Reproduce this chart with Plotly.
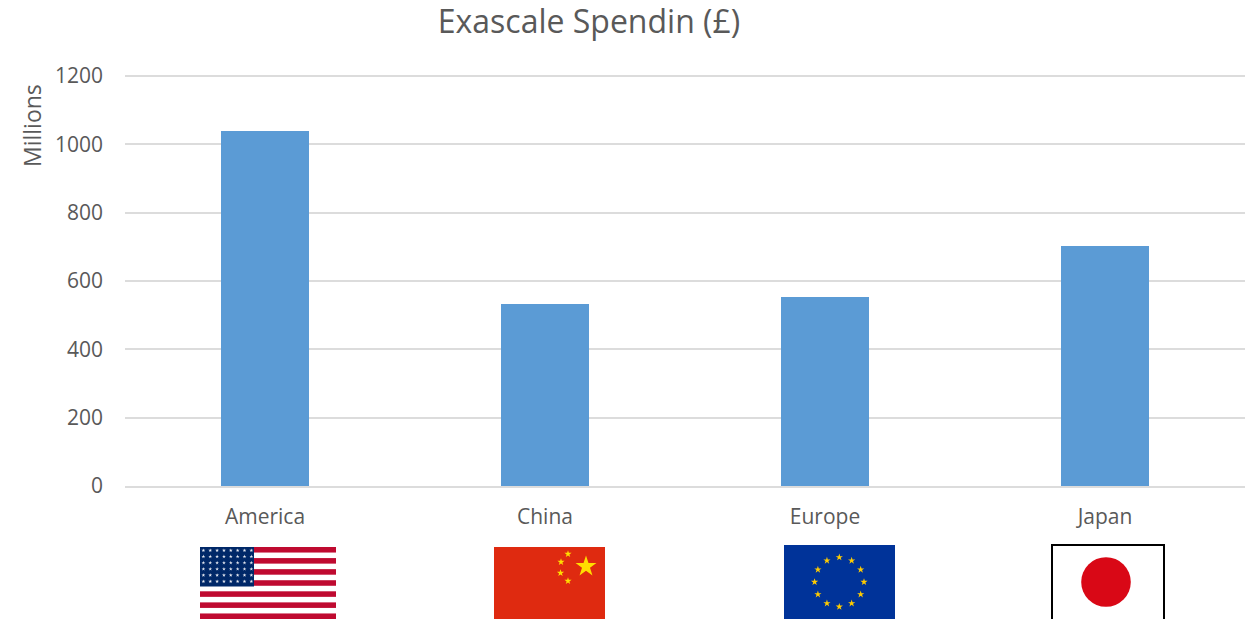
import base64
import math

import plotly.graph_objects as go

# Chart data
regions = ["America", "China", "Europe", "Japan"]
spending_millions = [1040, 533, 553, 702]
y_ticks = [0, 200, 400, 600, 800, 1000, 1200]

WIDTH, HEIGHT = 1253, 619
PLOT_LEFT, PLOT_RIGHT, PLOT_TOP, PLOT_BOTTOM = 125, 1245, 75, 486
TEXT = "#595959"
GRID = "#DCDCDC"
FONT = "Open Sans"


def star(cx, cy, r, fill):
    """Five-pointed star as an SVG polygon."""
    pts = []
    for i in range(10):
        rad = r if i % 2 == 0 else r * 0.382
        a = -math.pi / 2 + i * math.pi / 5
        pts.append(f"{cx + rad * math.cos(a):.2f},{cy + rad * math.sin(a):.2f}")
    return f'<polygon points="{" ".join(pts)}" fill="{fill}"/>'


def usa_flag():
    w, h = 136, 72
    stripe = h / 13
    body = f'<rect width="{w}" height="{h}" fill="#fff"/>'
    for i in range(0, 13, 2):
        body += f'<rect y="{i * stripe:.2f}" width="{w}" height="{stripe:.2f}" fill="#BF0A30"/>'
    body += '<rect width="54" height="39.5" fill="#002868"/>'
    for row in range(6):
        for col in range(8):
            body += star(3.4 + col * 6.85, 3.4 + row * 6.2, 2.0, "#E4E8F0")
    return w, h, body


def china_flag():
    w, h = 111, 72
    body = f'<rect width="{w}" height="{h}" fill="#DF2A10"/>'
    body += star(92, 19.5, 11, "#FFDE00")
    for cx, cy in [(74, 7), (67, 15), (66.5, 26), (74, 34)]:
        body += star(cx, cy, 3.8, "#FFDE00")
    return w, h, body


def europe_flag():
    w, h = 111, 74
    body = f'<rect width="{w}" height="{h}" fill="#003399"/>'
    for i in range(12):
        a = math.radians(i * 30)
        body += star(55.3 + 24.7 * math.sin(a), 37 - 24.7 * math.cos(a), 3.8, "#FFCC00")
    return w, h, body


def japan_flag():
    w, h = 114, 75
    body = (
        f'<rect x="1" y="1" width="{w - 2}" height="{h + 2}" fill="#fff" stroke="#000" stroke-width="2"/>'
        '<circle cx="55" cy="38" r="24.8" fill="#D90816"/>'
    )
    return w, h, body


def flag_image(flag, left, top):
    """Place an inline SVG flag below the axis, positioned in page pixels."""
    w, h, body = flag
    svg = f'<svg xmlns="http://www.w3.org/2000/svg" width="{w}" height="{h}" viewBox="0 0 {w} {h}">{body}</svg>'
    span_x = PLOT_RIGHT - PLOT_LEFT
    span_y = PLOT_BOTTOM - PLOT_TOP
    return dict(
        source="data:image/svg+xml;base64," + base64.b64encode(svg.encode()).decode(),
        xref="paper", yref="paper",
        x=(left - PLOT_LEFT) / span_x,
        y=(PLOT_BOTTOM - top) / span_y,
        sizex=w / span_x, sizey=h / span_y,
        xanchor="left", yanchor="top",
        sizing="stretch", layer="above",
    )


fig = go.Figure(
    go.Bar(
        x=regions,
        y=spending_millions,
        width=0.314,
        marker=dict(color="#5B9BD5", line=dict(width=0)),
    )
)

fig.update_layout(
    width=WIDTH,
    height=HEIGHT,
    autosize=False,
    plot_bgcolor="#fff",
    paper_bgcolor="#fff",
    showlegend=False,
    bargap=0,
    font=dict(family=FONT, color=TEXT),
    margin=dict(l=PLOT_LEFT, r=WIDTH - PLOT_RIGHT, t=PLOT_TOP, b=HEIGHT - PLOT_BOTTOM, pad=0),
    title=dict(
        text="Exascale Spendin (£)",
        font=dict(family=FONT, size=32, color=TEXT),
        x=589 / WIDTH, xref="container", xanchor="center",
        y=1 - 22 / HEIGHT, yref="container", yanchor="middle",
    ),
    annotations=[
        dict(
            text="Millions", textangle=-90,
            xref="paper", yref="paper",
            x=(32 - PLOT_LEFT) / (PLOT_RIGHT - PLOT_LEFT),
            y=(PLOT_BOTTOM - 126) / (PLOT_BOTTOM - PLOT_TOP),
            xanchor="center", yanchor="middle",
            showarrow=False, font=dict(family=FONT, size=23, color=TEXT),
        )
    ],
    images=[
        flag_image(usa_flag(), 200, 547),
        flag_image(china_flag(), 494, 547),
        flag_image(europe_flag(), 784, 545),
        flag_image(japan_flag(), 1051, 544),
    ],
)

fig.update_xaxes(
    type="category",
    range=[-0.5, 3.5],
    showgrid=False,
    showline=True,
    linecolor=GRID,
    linewidth=2,
    ticks="",
    ticklabelstandoff=11,
    tickfont=dict(family=FONT, size=21, color=TEXT),
)
# The axis top sits just above 1200 so that the top gridline is kept.
fig.update_yaxes(
    range=[0, 1203],
    tickvals=y_ticks,
    showgrid=True,
    gridcolor=GRID,
    gridwidth=2,
    zeroline=False,
    showline=False,
    ticks="",
    ticklabelstandoff=21,
    tickfont=dict(family=FONT, size=21, color=TEXT),
)

fig.write_html("out.html", config=dict(displayModeBar=False))
